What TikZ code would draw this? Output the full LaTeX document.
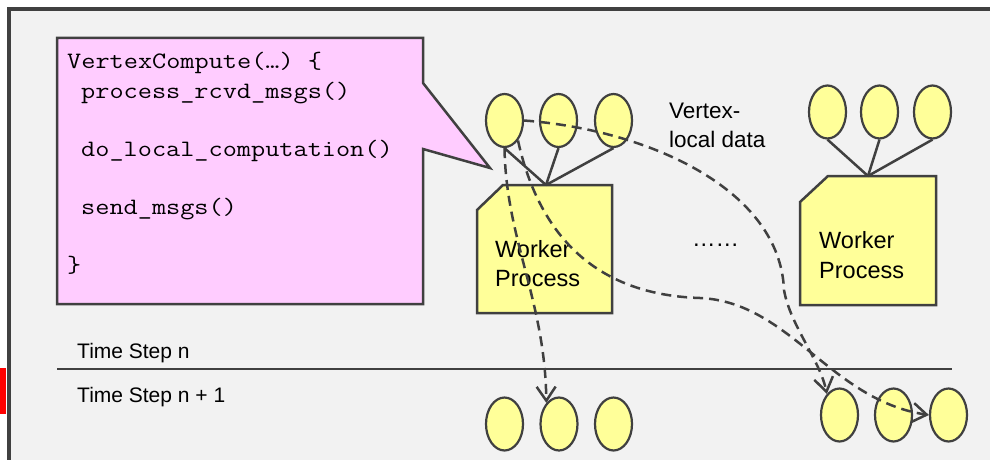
\documentclass[tikz,border=0pt]{standalone}
\usepackage{fontspec}
\setmainfont{Liberation Sans}
\newfontfamily\codefont{Latin Modern Mono}[FakeStretch=1.17]
\usetikzlibrary{arrows.meta,shapes.geometric}
\definecolor{edge}{HTML}{404040}
\definecolor{panel}{HTML}{F2F2F2}
\definecolor{bubble}{HTML}{FFCCFF}
\definecolor{vert}{HTML}{FFFF99}
\definecolor{redtab}{HTML}{FF0000}
\begin{document}
\begin{tikzpicture}[x=1pt,y=-1pt,
  vtx/.style={ellipse,draw=edge,fill=vert,line width=2.2pt,
    minimum width=37pt,minimum height=53pt,inner sep=0pt},
  solidline/.style={draw=edge,line width=2.5pt},
  flow/.style={draw=edge,line width=2.5pt,dash pattern=on 10pt off 6pt,
    -{Straight Barb[length=14pt,width=19pt]}},
  codeline/.style={anchor=base west,inner sep=0pt,
    font=\codefont\fontsize{23.5}{29}\selectfont},
  txt/.style={anchor=base west,inner sep=0pt,
    font=\fontsize{23.5}{29}\selectfont},
  smalltxt/.style={anchor=base west,inner sep=0pt,
    font=\fontsize{21}{26}\selectfont},
  procbox/.style={draw=edge,fill=vert,line width=2.5pt},
]
\useasboundingbox (0,0) rectangle (990,460);

% panel with its frame and tab
\fill[white] (0,0) rectangle (990,460);
\fill[panel] (9,9) rectangle (992,462);
\draw[edge,line width=4.5pt] (9,465) -- (9,9) -- (995,9);
\fill[redtab] (0,368) rectangle (6,414);

% speech bubble with the vertex program
\draw[draw=edge,fill=bubble,line width=2.5pt]
  (57,38) -- (423,38) -- (423,83) -- (490,168) -- (423,149)
  -- (423,304) -- (57,304) -- cycle;
\node[codeline] (c1) at (67,69) {VertexCompute(…) \{};
\node[codeline] (c2) at (81,98) {process\_rcvd\_msgs()};
\node[codeline] (c3) at (81,156) {do\_local\_computation()};
\node[codeline] (c4) at (81,214) {send\_msgs()};
\node[codeline] (c5) at (67,272) {\}};

% worker processes
\draw[procbox] (477,210) -- (503,185) -- (612,185) -- (612,313) -- (477,313) -- cycle;
\draw[procbox] (800,202) -- (828,176) -- (936,176) -- (936,305) -- (800,305) -- cycle;
\coordinate (w1top) at (546,185);
\coordinate (w2top) at (868,176);

% vertices held by each worker
\node[vtx] (a1) at (504.5,120.5) {};
\node[vtx] (a2) at (558.5,120.5) {};
\node[vtx] (a3) at (613.5,120.5) {};
\node[vtx] (b1) at (827.5,112) {};
\node[vtx] (b2) at (879.5,112) {};
\node[vtx] (b3) at (932.5,112) {};
\foreach \v in {a1,a2,a3} \draw[solidline] (\v.south) -- (w1top);
\foreach \v in {b1,b2,b3} \draw[solidline] (\v.south) -- (w2top);

\node[txt] (w1a) at (495,257) {Worker};
\node[txt] (w1b) at (495,286) {Process};
\node[txt] (w2a) at (819,248) {Worker};
\node[txt] (w2b) at (819,278) {Process};
\node[txt] (dots) at (692,246) {……};
\node[anchor=base west,inner sep=0pt,font=\fontsize{22.5}{29}\selectfont]
  (vl1) at (669,118) {Vertex-};
\node[anchor=base west,inner sep=0pt,font=\fontsize{22.5}{29}\selectfont]
  (vl2) at (669,147) {local data};

% time step separator
\coordinate (sepL) at (57,369);
\coordinate (sepR) at (952,369);
\draw[solidline] (sepL) -- (sepR);
\node[smalltxt] (tn) at (77,358) {Time Step n};
\node[smalltxt] (tn1) at (77,402) {Time Step n + 1};

% vertices in the next step
\node[vtx] (d1) at (504.5,424) {};
\node[vtx] (d2) at (559,424) {};
\node[vtx] (d3) at (613.5,424) {};
\node[vtx] (e1) at (839.5,415) {};
\node[vtx] (e2) at (893.5,415) {};
\node[vtx] (e3) at (948.5,415) {};

% messages
\draw[flow] (a1.south) .. controls (506,240) and (545,300) .. (d2.121);
\draw[flow] (a1.-56) .. controls (540,240) and (600,295) .. (700,298)
  .. controls (790,302) and (830,400) .. (e3.west);
\draw[flow] (a1.east) .. controls (650,130) and (780,190) .. (784,290)
  .. controls (790,325) and (820,360) .. (e1.121);
\end{tikzpicture}
\end{document}
